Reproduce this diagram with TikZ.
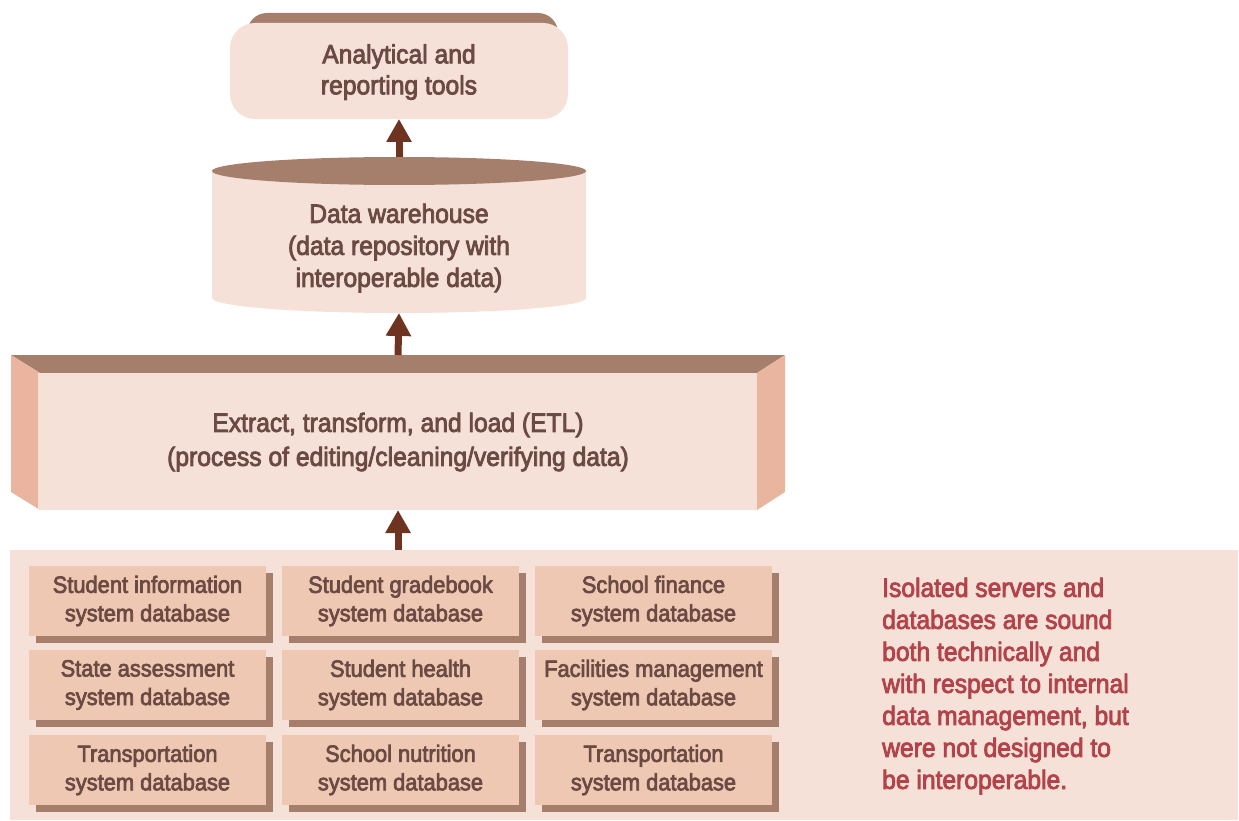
\documentclass[tikz,border=0pt]{standalone}
\usepackage{fontspec}
\setmainfont{Liberation Sans}[FakeBold=3, FakeStretch=0.93]
\usetikzlibrary{arrows.meta,shadows}
\definecolor{lightc}{HTML}{F5E1D7}
\definecolor{darkc}{HTML}{A57F6C}
\definecolor{sidec}{HTML}{EAB59F}
\definecolor{dbc}{HTML}{EEC8B2}
\definecolor{txtc}{HTML}{6B4A44}
\definecolor{redc}{HTML}{B3434B}
\definecolor{arrc}{HTML}{6E3421}
\tikzset{
  txt/.style={text=txtc, align=center, inner sep=0pt, font=\fontsize{26.5}{31}\selectfont},
  dbbox/.style={fill=dbc, minimum width=237pt, minimum height=70pt, inner sep=0pt,
    text=txtc, align=center, font=\fontsize{23.5}{28.5}\selectfont,
    drop shadow={shadow xshift=7pt, shadow yshift=-7pt, fill=darkc, opacity=1}},
  conn/.style={draw=arrc, line width=7pt, -{Triangle[width=24pt,length=23pt]}},
  ghost/.style={inner sep=0pt, outer sep=0pt}
}
\begin{document}
\begin{tikzpicture}[x=1pt,y=-1pt]
\useasboundingbox (0,0) rectangle (1239,821);
% analytical tools
\fill[darkc, rounded corners=20pt] (247,13) rectangle (558,60);
\node[ghost, fill=lightc, rounded corners=25pt, minimum width=338pt, minimum height=96pt] (tools) at (399,71) {};
\node[txt] (toolstxt) at (399,72) {Analytical and\\reporting tools};
% data warehouse cylinder
\node[ghost, minimum width=374pt, minimum height=156pt] (dw) at (399,235) {};
\fill[lightc] (212,171) -- (212,298) arc[start angle=180, end angle=0, x radius=187, y radius=15] -- (586,171) -- cycle;
\fill[darkc] (399,171) ellipse [x radius=187, y radius=14];
\node[txt, font=\fontsize{26.5}{32}\selectfont] (dwtxt) at (399,248) {Data warehouse\\(data repository with\\interoperable data)};
% ETL box
\node[ghost, minimum width=774pt, minimum height=155pt] (etl) at (398,432.5) {};
\fill[darkc] (11,355) -- (785,355) -- (757,373) -- (40,373) -- cycle;
\fill[sidec] (11,355) -- (40,373) -- (40,510) -- (11,492) -- cycle;
\fill[sidec] (785,355) -- (757,373) -- (757,510) -- (785,492) -- cycle;
\fill[lightc] (38,373) rectangle (757,510);
\node[txt, font=\fontsize{26.5}{34}\selectfont] (etltxt) at (398,442) {Extract, transform, and load (ETL)\\(process of editing/cleaning/verifying data)};
% panel
\node[ghost, fill=lightc, minimum width=1228pt, minimum height=270pt] (panel) at (624,685) {};
\node[dbbox] (d11) at (147.5,601) {Student information\\system database};
\node[dbbox] (d12) at (400.5,601) {Student gradebook\\system database};
\node[dbbox] (d13) at (653.5,601) {School finance\\system database};
\node[dbbox] (d21) at (147.5,685) {State assessment\\system database};
\node[dbbox] (d22) at (400.5,685) {Student health\\system database};
\node[dbbox] (d23) at (653.5,685) {Facilities management\\system database};
\node[dbbox] (d31) at (147.5,770) {Transportation\\system database};
\node[dbbox] (d32) at (400.5,770) {School nutrition\\system database};
\node[dbbox] (d33) at (653.5,770) {Transportation\\system database};
\node[txt, text=redc, align=left, anchor=west, font=\fontsize{26.5}{32}\selectfont] (note) at (882,686)
  {Isolated servers and\\databases are sound\\both technically and\\with respect to internal\\data management, but\\were not designed to\\be interoperable.};
% connectors
\draw[conn] (panel.north -| etl.south) -- (etl.south);
\draw[conn] (etl.north) -- (dw.south);
\draw[conn] (dw.north) -- (tools.south);
\end{tikzpicture}
\end{document}
